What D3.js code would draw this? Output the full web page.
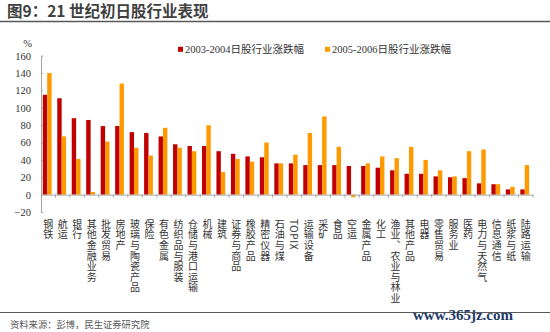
<!DOCTYPE html>
<html>
<head>
<meta charset="utf-8">
<script src="https://cdn.jsdelivr.net/npm/d3@7"></script>
<style>
  html, body { margin: 0; padding: 0; background: #fff; }
  svg { display: block; }
  .vlabel { writing-mode: vertical-rl; text-orientation: mixed; }
</style>
</head>
<body>
<svg id="chart" width="550" height="332"></svg>
<script>
// Industry categories (Japanese equity sectors)
const categories = ["钢铁","航运","银行","其他金融业务","批发贸易","房地产","玻璃与陶瓷产品","保险","有色金属","纺织品与服装","仓储与港口运输","机械","建筑","证券与商品","橡胶产品","精密仪器","石油与煤","TOPIX","运输设备","采矿","食品","空运","金属产品","化工","渔业、农业与林业","其他产品","电器","零售贸易","服务业","医药","电力与天然气","信息通信","纸浆与纸","陆路运输"];

// 2003-2004 change (%)
const change0304 = [115,111,88,86,79,79,72,71,67,58,56,56,50,47,44,43,36,36,34,34,34,33,33,31,28,24,24,21,20,19,13,12,6,6];
// 2005-2006 change (%)
const change0506 = [140,67,41,3,61,128,54,45,77,54,50,80,26,41,38,60,36,46,71,90,55,-3,36,44,42,55,40,28,21,50,52,12,9,34];

const seriesNames = ["2003-2004日股行业涨跌幅", "2005-2006日股行业涨跌幅"];
const seriesColors = ["#C00000", "#FF9900"];
const yTicks = [-20, 0, 20, 40, 60, 80, 100, 120, 140, 160];

const svg = d3.select("#chart");
const serif = "'Liberation Serif','Times New Roman','Noto Sans CJK SC',serif";
const cjk = "'Noto Sans CJK SC','Liberation Serif',sans-serif";

// Title and rule
svg.append("text")
  .attr("x", 7).attr("y", 17)
  .attr("font-family", cjk).attr("font-weight", "bold").attr("font-size", 15.5)
  .attr("fill", "#404040")
  .text("图9：21 世纪初日股行业表现");
svg.append("line")
  .attr("x1", 0).attr("x2", 550).attr("y1", 21.5).attr("y2", 21.5)
  .attr("stroke", "#595959").attr("stroke-width", 1.6);

// Scales
const x = d3.scaleBand().domain(categories).range([41, 533]).padding(0);
const y = d3.scaleLinear().domain([-20, 160]).range([212, 55.7]);
const sub = d3.scaleBand().domain([0, 1]).range([1.8, 10.6]).padding(0);

// Y axis
const yAxis = d3.axisLeft(y).tickValues(yTicks).tickSize(-2).tickPadding(10);
const gy = svg.append("g").attr("transform", "translate(41,0)").call(yAxis);
gy.select(".domain").attr("stroke", "#A6A6A6");
gy.selectAll(".tick line").attr("stroke", "#A6A6A6");
gy.selectAll(".tick text")
  .attr("font-family", serif).attr("font-size", 10.5).attr("fill", "#333");

svg.append("text")
  .attr("x", 27.5).attr("y", 47)
  .attr("text-anchor", "middle")
  .attr("font-family", serif).attr("font-size", 10.5).attr("fill", "#333")
  .text("%");

// Bars
const barData = [];
categories.forEach((c, i) => {
  barData.push({ cat: c, s: 0, v: change0304[i] });
  barData.push({ cat: c, s: 1, v: change0506[i] });
});
svg.append("g").selectAll("rect").data(barData).join("rect")
  .attr("x", d => x(d.cat) + sub(d.s))
  .attr("width", sub.bandwidth())
  .attr("y", d => y(Math.max(0, d.v)))
  .attr("height", d => Math.abs(y(d.v) - y(0)))
  .attr("fill", d => seriesColors[d.s]);

// Category axis along zero
const xAxis = d3.axisBottom(x).tickSize(0).tickFormat("");
const gx = svg.append("g").attr("transform", `translate(0,${y(0)})`).call(xAxis);
gx.select(".domain").attr("stroke", "#A6A6A6");
svg.append("g").selectAll("line")
  .data(categories.slice(1).concat(["__end"]))
  .join("line")
  .attr("x1", (d, i) => x.range()[0] + (i + 1) * x.step())
  .attr("x2", (d, i) => x.range()[0] + (i + 1) * x.step())
  .attr("y1", y(0)).attr("y2", y(0) + 3)
  .attr("stroke", "#A6A6A6");

// Vertical category labels (upright CJK, sideways Latin)
svg.append("g").selectAll("text").data(categories).join("text")
  .attr("class", "vlabel")
  .attr("x", d => x(d) + x.bandwidth() / 2)
  .attr("y", 219)
  .attr("dominant-baseline", "central")
  .attr("letter-spacing", 0.6)
  .attr("font-family", cjk).attr("font-size", 10).attr("fill", "#333")
  .text(d => d);

// Legend
const legendX = [178, 325];
seriesNames.forEach((name, i) => {
  svg.append("rect")
    .attr("x", legendX[i]).attr("y", 46.8).attr("width", 5).attr("height", 5)
    .attr("fill", seriesColors[i]);
  svg.append("text")
    .attr("x", legendX[i] + 7).attr("y", 53.3)
    .attr("font-family", serif).attr("font-size", 10.5).attr("fill", "#333")
    .text(name);
});

// Footer
svg.append("line")
  .attr("x1", 0).attr("x2", 550).attr("y1", 312.5).attr("y2", 312.5)
  .attr("stroke", "#595959").attr("stroke-width", 1.2);
svg.append("text")
  .attr("x", 10).attr("y", 328)
  .attr("font-family", cjk).attr("font-size", 9.3).attr("fill", "#595959")
  .text("资料来源：彭博，民生证券研究院");
svg.append("text")
  .attr("x", 513).attr("y", 319.5).attr("text-anchor", "end")
  .attr("font-family", serif).attr("font-weight", "bold").attr("font-size", 15)
  .attr("fill", "#1F3A68")
  .text("www.365jz.com");
</script>
</body>
</html>
